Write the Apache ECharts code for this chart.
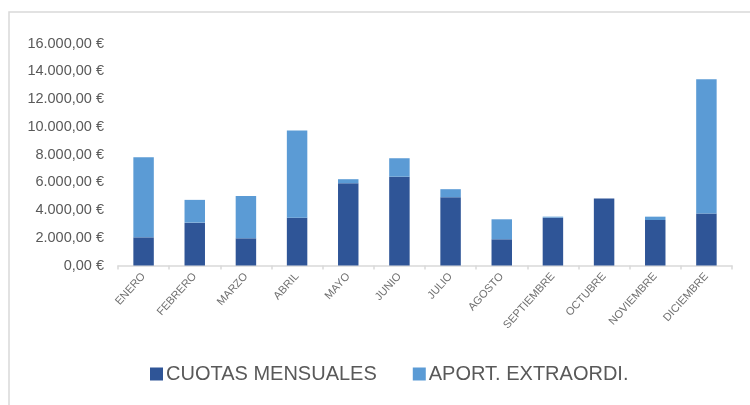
<!DOCTYPE html>
<html>
<head>
<meta charset="utf-8">
<script src="https://cdn.jsdelivr.net/npm/echarts@6/dist/echarts.min.js"></script>
<style>html,body{margin:0;padding:0;background:#fff}#c{width:750px;height:405px}</style>
</head>
<body>
<div id="c"></div>
<script>
const categories = ['ENERO','FEBRERO','MARZO','ABRIL','MAYO','JUNIO','JULIO','AGOSTO','SEPTIEMBRE','OCTUBRE','NOVIEMBRE','DICIEMBRE'];
const cuotasMensuales = [2030, 3090, 1960, 3450, 5930, 6400, 4920, 1890, 3450, 4820, 3280, 3740];
const aportExtraordi = [5770, 1640, 3050, 6280, 290, 1330, 580, 1440, 70, 0, 240, 9690];
const seriesNames = ['CUOTAS MENSUALES', 'APORT. EXTRAORDI.'];

function fmtEuro(v) {
  const parts = v.toFixed(2).split('.');
  const intPart = parts[0].replace(/\B(?=(\d{3})+(?!\d))/g, '.');
  return intPart + ',' + parts[1] + ' €';
}

const chart = echarts.init(document.getElementById('c'), null, {renderer: 'canvas'});
chart.setOption({
  animation: false,
  backgroundColor: '#fff',
  textStyle: {fontFamily: 'Liberation Sans'},
  graphic: [{
    type: 'rect', silent: true,
    shape: {x: 9, y: 12, width: 800, height: 500},
    style: {fill: 'none', stroke: '#d9d9d9', lineWidth: 1.5}
  }],
  grid: {left: 118, right: 18, top: 43.5, bottom: 139.5, containLabel: false},
  legend: {
    left: 150, top: 364, padding: 0,
    itemWidth: 13, itemHeight: 13, itemGap: 36,
    icon: 'rect',
    textStyle: {color: '#595959', fontSize: 20, fontFamily: 'Liberation Sans', padding: [0, 0, 0, -2]},
    data: seriesNames
  },
  xAxis: {
    type: 'category',
    data: categories,
    axisLine: {lineStyle: {color: '#d9d9d9', width: 1.5}},
    axisTick: {show: true, length: 4, lineStyle: {color: '#d9d9d9', width: 1.5}},
    axisLabel: {rotate: 48, margin: 9, fontSize: 11, color: '#707070', fontFamily: 'Liberation Sans', interval: 0}
  },
  yAxis: {
    type: 'value',
    min: 0, max: 16000, interval: 2000,
    axisLine: {show: false},
    axisTick: {show: false},
    splitLine: {show: false},
    axisLabel: {formatter: fmtEuro, fontSize: 14.5, color: '#595959', margin: 14, fontFamily: 'Liberation Sans'}
  },
  series: [
    {name: seriesNames[0], type: 'bar', stack: 'total', data: cuotasMensuales, barWidth: '40%', itemStyle: {color: '#2F5597'}},
    {name: seriesNames[1], type: 'bar', stack: 'total', data: aportExtraordi, barWidth: '40%', itemStyle: {color: '#5B9BD5'}}
  ]
});
</script>
</body>
</html>
